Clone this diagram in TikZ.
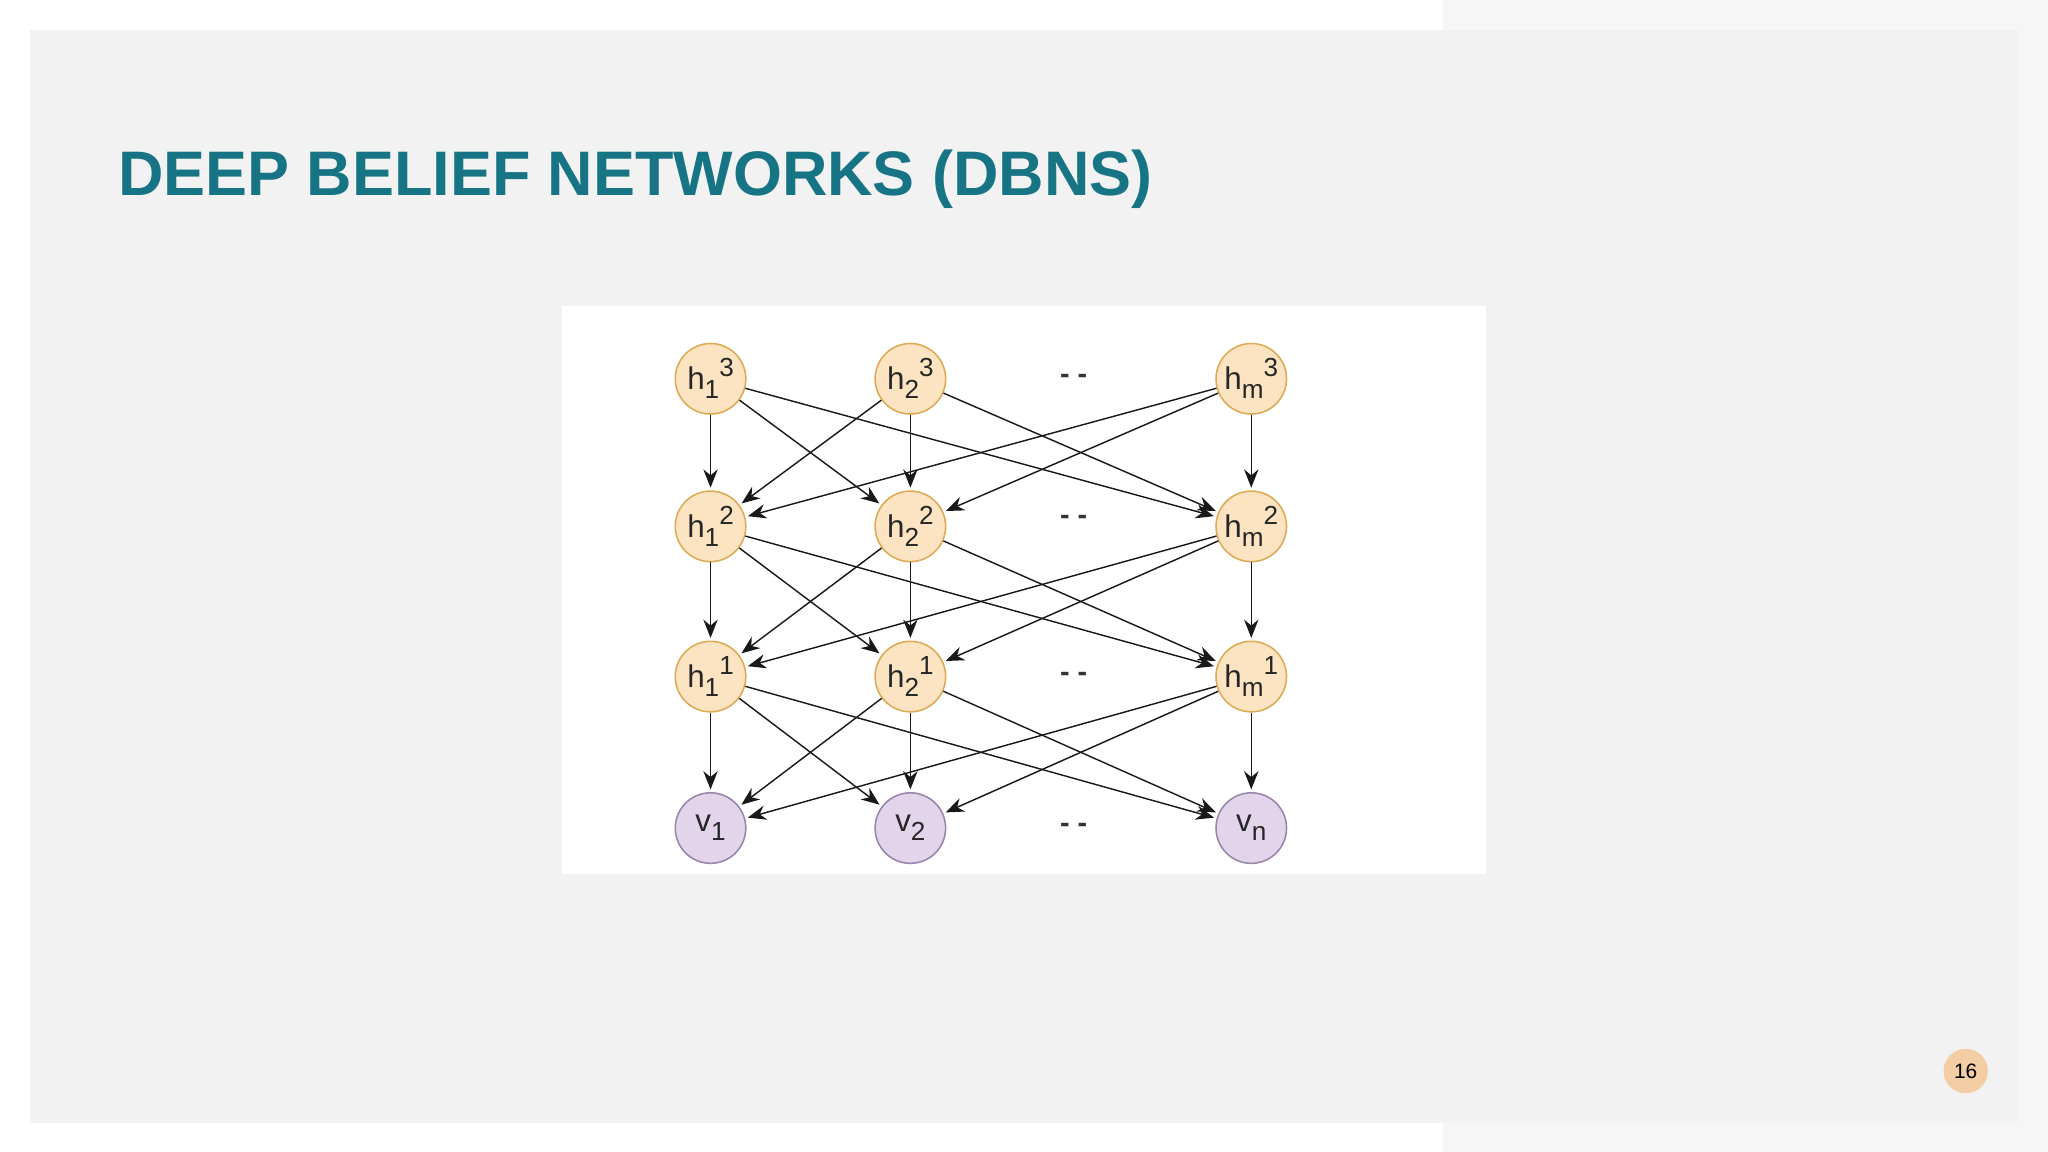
\documentclass[tikz,border=0pt]{standalone}
\usepackage{fontspec}
\setmainfont{Liberation Sans}
\usetikzlibrary{arrows.meta}
\definecolor{panel}{HTML}{F2F2F3}
\definecolor{strip}{HTML}{F6F6F6}
\definecolor{teal}{HTML}{167485}
\definecolor{hfill}{HTML}{FCE4C2}
\definecolor{hdraw}{HTML}{DDAA55}
\definecolor{vfill}{HTML}{E2D4EA}
\definecolor{vdraw}{HTML}{9A86AA}
\definecolor{badge}{HTML}{F3CDA3}
\newcommand{\hl}[2]{h\raisebox{-3.5pt}{\fontsize{10}{10}\selectfont #1}\raisebox{5pt}{\fontsize{10}{10}\selectfont #2}}
\newcommand{\vl}[1]{v\raisebox{-3.5pt}{\fontsize{10}{10}\selectfont #1}}
\begin{document}
\begin{tikzpicture}[x=0.5pt,y=-0.5pt,
  hn/.style={circle,draw=hdraw,fill=hfill,line width=0.6pt,minimum size=27pt,inner sep=0pt,font=\fontsize{12}{12}\selectfont,text=black!85},
  vn/.style={hn,draw=vdraw,fill=vfill},
  e/.style={-{Stealth[length=7pt,width=5.5pt]},line width=0.55pt,black!90,shorten >=1pt},
  dots/.style={font=\fontsize{11}{11}\selectfont\bfseries,text=black!80}]
\useasboundingbox (0,0) rectangle (1568,882);
\fill[white] (0,0) rectangle (1568,882);
\fill[strip] (1105,0) rectangle (1568,882);
\fill[panel] (23,23) rectangle (1545,860);
\node[anchor=base west,inner sep=0pt,text=teal] (title) at (90,150)
  {\resizebox{396pt}{!}{\bfseries\fontsize{28}{28}\selectfont DEEP BELIEF NETWORKS (DBNS)}};
\fill[white] (430,234) rectangle (1138,669);
% nodes
\foreach \c/\x in {1/544,2/697}{
  \node[hn] (a3\c) at (\x,290) {\hl{\c}{3}};
  \node[hn] (a2\c) at (\x,403) {\hl{\c}{2}};
  \node[hn] (a1\c) at (\x,518) {\hl{\c}{1}};
}
\node[hn] (a3m) at (958,290) {\hl{m}{3}};
\node[hn] (a2m) at (958,403) {\hl{m}{2}};
\node[hn] (a1m) at (958,518) {\hl{m}{1}};
\node[vn] (v1) at (544,634) {\vl{1}};
\node[vn] (v2) at (697,634) {\vl{2}};
\node[vn] (vm) at (958,634) {\vl{n}};
\node[dots] (d3) at (822,290) {- -};
\node[dots] (d2) at (822,398) {- -};
\node[dots] (d1) at (822,518) {- -};
\node[dots] (d0) at (822,634) {- -};
% edges
\foreach \u/\l in {a3/a2,a2/a1}{
  \foreach \i in {1,2,m}{
    \foreach \j in {1,2,m}{
      \draw[e] (\u\i) -- (\l\j);
    }
  }
}
\foreach \i in {1,2,m}{
  \draw[e] (a1\i) -- (v1);
  \draw[e] (a1\i) -- (v2);
  \draw[e] (a1\i) -- (vm);
}
\node[circle,fill=badge,minimum size=17pt,inner sep=0pt,font=\fontsize{8}{8}\selectfont] (pg) at (1505,820) {16};
\end{tikzpicture}
\end{document}
